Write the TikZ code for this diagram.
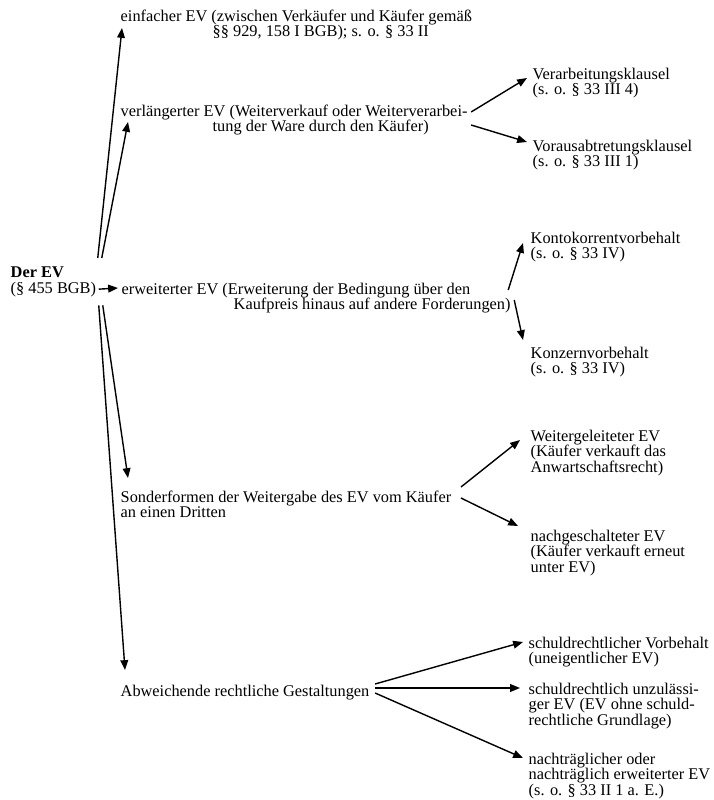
\documentclass[tikz,border=0pt]{standalone}
\usepackage{fontspec}
\setmainfont{Liberation Serif}
\usepackage{tikz}
\usetikzlibrary{arrows.meta}

\newcommand{\evfont}{\fontsize{9.3}{8.95}\selectfont\lineskiplimit=-5pt\relax}

\begin{document}
\begin{tikzpicture}[>={Triangle[length=5.6pt,width=4.4pt]}, line width=0.8pt,
	every node/.style={anchor=north west, inner sep=0pt, align=left, font=\evfont}]
	
	\useasboundingbox (0,0) rectangle (14.26,-16);
	
	% Draw nodes
	\node (root) at (0.20,-5.32) {\textbf{Der EV}\\(§ 455 BGB)};
	\node (einf) at (2.40,-0.18) {einfacher EV (zwischen Verkäufer und Käufer gemäß\\\hspace*{1.84cm}§§ 929, 158 I BGB); s. o. § 33 II};
	\node (verl) at (2.40,-2.08) {verlängerter EV (Weiterverkauf oder Weiterverarbei-\\\hspace*{1.84cm}tung der Ware durch den Käufer)};
	\node (erw) at (2.42,-5.64) {erweiterter EV (Erweiterung der Bedingung über den\\\hspace*{2.24cm}Kaufpreis hinaus auf andere Forderungen)};
	\node (sonder) at (2.40,-9.80) {Sonderformen der Weitergabe des EV vom Käufer\\an einen Dritten};
	\node (abw) at (2.40,-13.68) {Abweichende rechtliche Gestaltungen};
	\node (verarb) at (10.64,-1.34) {Verarbeitungsklausel\\(s. o. § 33 III 4)};
	\node (voraus) at (10.64,-2.78) {Vorausabtretungsklausel\\(s. o. § 33 III 1)};
	\node (konto) at (10.60,-4.62) {Kontokorrentvorbehalt\\(s. o. § 33 IV)};
	\node (konzern) at (10.60,-6.92) {Konzernvorbehalt\\(s. o. § 33 IV)};
	\node (weiter) at (10.60,-8.58) {Weitergeleiteter EV\\(Käufer verkauft das\\Anwartschaftsrecht)};
	\node (nach) at (10.60,-10.58) {nachgeschalteter EV\\(Käufer verkauft erneut\\unter EV)};
	\node (schuld) at (10.56,-12.72) {schuldrechtlicher Vorbehalt\\(uneigentlicher EV)};
	\node (unzul) at (10.56,-13.64) {schuldrechtlich unzulässi-\\ger EV (EV ohne schuld-\\rechtliche Grundlage)};
	\node (nachtr) at (10.56,-15.04) {nachträglicher oder\\nachträglich erweiterter EV\\(s. o. § 33 II 1 a. E.)};
	
	% Draw arcs, from the root to the forms
	\draw[->] ([xshift=0.02cm,yshift=0.16cm]root.north east) to ([xshift=0.04cm,yshift=-0.38cm]einf.north west);
	\draw[->] ([xshift=0.10cm,yshift=0.16cm]root.north east) to ([xshift=0.16cm,yshift=-0.36cm]verl.north west);
	\draw[->] ([xshift=0.04cm,yshift=-0.15cm]root.east) to ([xshift=-0.06cm,yshift=-0.12cm]erw.north west);
	\draw[->] ([xshift=0.12cm,yshift=-0.16cm]root.south east) to ([xshift=0.16cm,yshift=0.24cm]sonder.north west);
	\draw[->] ([xshift=0.04cm,yshift=-0.16cm]root.south east) to ([xshift=0.10cm,yshift=0.28cm]abw.north west);
	
	% Draw arcs, the subforms
	\draw[->] ([xshift=0.06cm,yshift=-0.16cm]verl.north east) to ([xshift=-0.10cm,yshift=-0.22cm]verarb.north west);
	\draw[->] ([xshift=0.06cm,yshift=-0.42cm]verl.north east) to ([xshift=-0.10cm,yshift=-0.06cm]voraus.north west);
	\draw[->] ([xshift=-0.06cm,yshift=-0.16cm]erw.north east) to ([xshift=-0.14cm,yshift=-0.24cm]konto.north west);
	\draw[->] ([xshift=0.06cm,yshift=-0.36cm]erw.north east) to ([xshift=-0.14cm,yshift=0.12cm]konzern.north west);
	\draw[->] ([xshift=0.18cm,yshift=0.06cm]sonder.north east) to ([xshift=-0.20cm,yshift=-0.22cm]weiter.north west);
	\draw[->] ([xshift=0.18cm,yshift=-0.16cm]sonder.north east) to ([xshift=-0.24cm,yshift=0.06cm]nach.north west);
	\draw[->] ([xshift=0.10cm]abw.north east) to ([xshift=-0.10cm,yshift=-0.12cm]schuld.north west);
	\draw[->] ([xshift=0.10cm,yshift=-0.08cm]abw.north east) to ([xshift=-0.16cm,yshift=-0.12cm]unzul.north west);
	\draw[->] ([xshift=0.10cm,yshift=-0.18cm]abw.north east) to ([xshift=-0.10cm,yshift=-0.12cm]nachtr.north west);
	
\end{tikzpicture}
\end{document}
